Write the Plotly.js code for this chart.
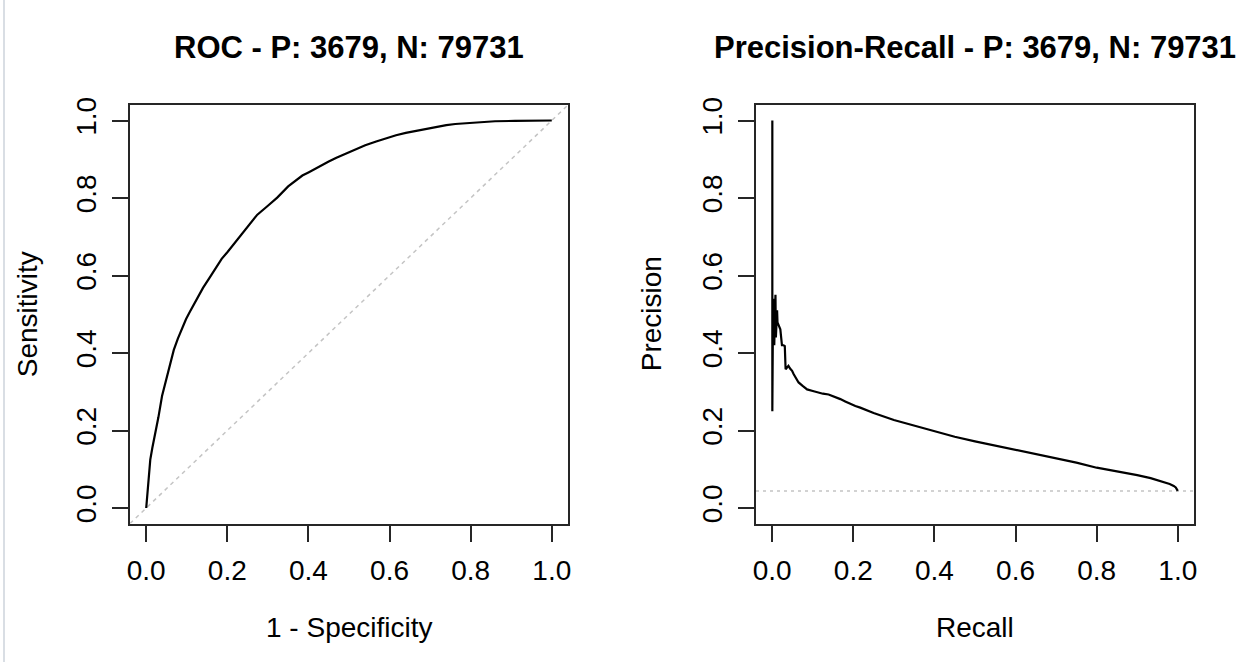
<!DOCTYPE html>
<html>
<head>
<meta charset="utf-8">
<script src="https://cdn.plot.ly/plotly-3.0.1.min.js"></script>
<style>html,body{margin:0;padding:0;background:#fff;}#chart{width:1240px;height:662px;}</style>
</head>
<body>
<div id="chart"></div>
<script>
// ---- Data ----
const P = 3679, N = 79731;
const tickVals = [0, 0.2, 0.4, 0.6, 0.8, 1.0];
const tickLabels = ["0.0", "0.2", "0.4", "0.6", "0.8", "1.0"];

// ROC curve: 1 - specificity vs sensitivity
const rocFPR = [0, 0.002, 0.005, 0.01, 0.015, 0.02, 0.03, 0.039, 0.047, 0.054, 0.061, 0.068, 0.078, 0.088, 0.098, 0.108, 0.118, 0.127, 0.14, 0.156, 0.17, 0.186, 0.2, 0.225, 0.25, 0.274, 0.3, 0.323, 0.35, 0.371, 0.385, 0.4, 0.42, 0.45, 0.469, 0.5, 0.518, 0.54, 0.567, 0.6, 0.616, 0.64, 0.665, 0.7, 0.714, 0.74, 0.762, 0.8, 0.811, 0.86, 0.909, 0.95, 1.0];
const rocTPR = [0, 0.03, 0.06, 0.125, 0.155, 0.18, 0.234, 0.289, 0.322, 0.354, 0.382, 0.408, 0.437, 0.463, 0.487, 0.507, 0.527, 0.545, 0.568, 0.594, 0.617, 0.643, 0.66, 0.692, 0.725, 0.757, 0.78, 0.801, 0.83, 0.848, 0.858, 0.866, 0.878, 0.894, 0.904, 0.918, 0.926, 0.936, 0.946, 0.957, 0.962, 0.968, 0.973, 0.98, 0.984, 0.988, 0.991, 0.994, 0.996, 0.998, 0.999, 1.0, 1.0];

// Precision-Recall curve
const prRecall = [0.00027, 0.00027, 0.00027, 0.00027, 0.001, 0.002, 0.003, 0.004, 0.005, 0.006, 0.007, 0.008, 0.009, 0.010, 0.011, 0.012, 0.013, 0.016, 0.020, 0.024, 0.028, 0.031, 0.033, 0.036, 0.040, 0.044, 0.049, 0.053, 0.057, 0.061, 0.065, 0.075, 0.086, 0.1, 0.111, 0.125, 0.139, 0.155, 0.168, 0.18, 0.193, 0.205, 0.217, 0.25, 0.3, 0.35, 0.4, 0.45, 0.5, 0.55, 0.6, 0.65, 0.7, 0.75, 0.8, 0.85, 0.9, 0.933, 0.95, 0.97, 0.98, 0.99, 0.995, 1.0];
const prPrecision = [1.0, 0.5, 0.333, 0.25, 0.40, 0.52, 0.45, 0.54, 0.42, 0.53, 0.46, 0.55, 0.44, 0.50, 0.48, 0.51, 0.479, 0.47, 0.461, 0.42, 0.42, 0.418, 0.358, 0.362, 0.367, 0.36, 0.354, 0.345, 0.337, 0.33, 0.324, 0.315, 0.306, 0.302, 0.298, 0.295, 0.293, 0.287, 0.281, 0.275, 0.268, 0.263, 0.259, 0.245, 0.227, 0.212, 0.199, 0.184, 0.172, 0.161, 0.149, 0.138, 0.127, 0.117, 0.104, 0.095, 0.085, 0.077, 0.072, 0.065, 0.062, 0.057, 0.053, 0.0441];

const baseRate = P / (P + N);

// ---- Styling ----
const FONT = "Liberation Sans, Arial, Helvetica, sans-serif";
const AXCOL = "#262626";

function xAxis(domain, anchor) {
  return {
    domain: domain, anchor: anchor, range: [-0.04, 1.04],
    tickvals: tickVals, ticktext: tickLabels,
    ticks: "outside", ticklen: 16, tickwidth: 2, tickcolor: AXCOL,
    showline: true, mirror: true, linecolor: AXCOL, linewidth: 2,
    showgrid: false, zeroline: false,
    tickfont: {family: FONT, size: 28, color: "#000"},
    ticklabelstandoff: 5, fixedrange: true
  };
}
function yAxis(domain, anchor) {
  return {
    domain: domain, anchor: anchor, range: [-0.04, 1.04],
    tickvals: tickVals, ticktext: tickLabels, tickangle: -90,
    ticks: "outside", ticklen: 16, tickwidth: 2, tickcolor: AXCOL,
    showline: true, mirror: true, linecolor: AXCOL, linewidth: 2,
    showgrid: false, zeroline: false,
    tickfont: {family: FONT, size: 28, color: "#000"},
    ticklabelstandoff: 5, fixedrange: true
  };
}

const traces = [
  {x: [-0.04, 1.04], y: [-0.04, 1.04], xaxis: "x", yaxis: "y", mode: "lines",
   line: {color: "#c4c4c4", width: 1.5, dash: "4px,4px"}, hoverinfo: "skip"},
  {x: rocFPR, y: rocTPR, xaxis: "x", yaxis: "y", mode: "lines",
   line: {color: "#000", width: 2.2}},
  {x: [-0.04, 1.04], y: [baseRate, baseRate], xaxis: "x2", yaxis: "y2", mode: "lines",
   line: {color: "#c4c4c4", width: 1.5, dash: "3px,4px"}, hoverinfo: "skip"},
  {x: prRecall, y: prPrecision, xaxis: "x2", yaxis: "y2", mode: "lines",
   line: {color: "#000", width: 2.2}}
];

const leftDom = [130 / 1240, 568 / 1240];
const rightDom = [756 / 1240, 1194 / 1240];
const yDom = [138.5 / 662, 557 / 662];

const layout = {
  width: 1240, height: 662,
  margin: {l: 0, r: 0, t: 0, b: 0},
  paper_bgcolor: "#fff", plot_bgcolor: "#fff",
  showlegend: false,
  xaxis: xAxis(leftDom, "y"),
  yaxis: yAxis(yDom, "x"),
  xaxis2: xAxis(rightDom, "y2"),
  yaxis2: yAxis(yDom, "x2"),
  shapes: [
    {type: "line", xref: "paper", yref: "paper", x0: 4 / 1240, x1: 4 / 1240, y0: 0, y1: 1,
     line: {color: "#d9dee4", width: 2}}
  ],
  annotations: [
    {text: "<b>ROC - P: " + P + ", N: " + N + "</b>", xref: "paper", yref: "paper",
     x: (leftDom[0] + leftDom[1]) / 2, y: 1 - 47 / 662, xanchor: "center", yanchor: "middle",
     showarrow: false, font: {family: FONT, size: 31, color: "#000"}},
    {text: "<b>Precision-Recall - P: " + P + ", N: " + N + "</b>", xref: "paper", yref: "paper",
     x: (rightDom[0] + rightDom[1]) / 2, y: 1 - 47 / 662, xanchor: "center", yanchor: "middle",
     showarrow: false, font: {family: FONT, size: 31, color: "#000"}},
    {text: "1 - Specificity", xref: "paper", yref: "paper",
     x: (leftDom[0] + leftDom[1]) / 2, y: 1 - 627 / 662, xanchor: "center", yanchor: "middle",
     showarrow: false, font: {family: FONT, size: 28, color: "#000"}},
    {text: "Recall", xref: "paper", yref: "paper",
     x: (rightDom[0] + rightDom[1]) / 2, y: 1 - 627 / 662, xanchor: "center", yanchor: "middle",
     showarrow: false, font: {family: FONT, size: 28, color: "#000"}},
    {text: "Sensitivity", xref: "paper", yref: "paper", textangle: -90,
     x: 27 / 1240, y: (yDom[0] + yDom[1]) / 2, xanchor: "center", yanchor: "middle",
     showarrow: false, font: {family: FONT, size: 28, color: "#000"}},
    {text: "Precision", xref: "paper", yref: "paper", textangle: -90,
     x: 651 / 1240, y: (yDom[0] + yDom[1]) / 2, xanchor: "center", yanchor: "middle",
     showarrow: false, font: {family: FONT, size: 28, color: "#000"}}
  ]
};

Plotly.newPlot("chart", traces, layout, {staticPlot: true, displayModeBar: false});
</script>
</body>
</html>
